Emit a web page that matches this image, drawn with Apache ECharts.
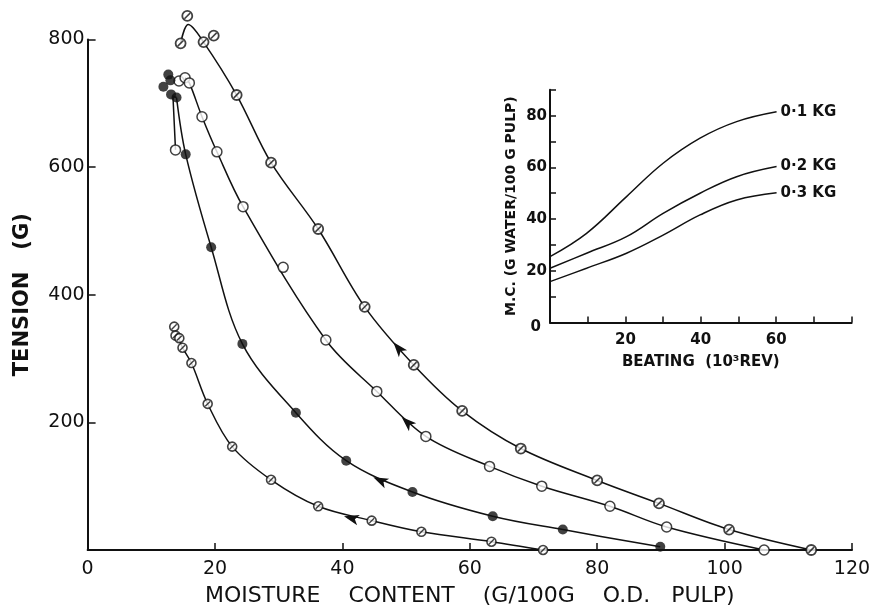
<!DOCTYPE html>
<html>
<head>
<meta charset="utf-8">
<script src="https://cdn.jsdelivr.net/npm/echarts@6/dist/echarts.min.js"></script>
<style>
  html, body { margin: 0; padding: 0; background: #fff; }
  #chart { width: 877px; height: 612px; }
</style>
</head>
<body>
<div id="chart"></div>
<script>
// Tension vs moisture content during drying, four beating levels.
// Marker points [moisture, tension]
const slashedHigh = [[15.65,837],[14.6,794],[18.2,796],[19.8,806],[23.4,713],[28.8,607],[36.2,503],[43.5,381],[51.2,290],[58.8,218],[68.0,159],[80.0,109],[89.7,73],[100.7,32],[113.6,0]];
const openPts = [[13.8,627],[14.35,735],[15.3,740],[15.97,732],[17.96,679],[20.3,624],[24.4,538],[30.7,443],[37.4,329],[45.4,248.5],[53.1,178],[63.1,131],[71.3,100],[82.0,68.5],[90.9,36],[106.2,0]];
const filledPts = [[12.67,745],[11.9,726],[13.0,736],[13.1,714],[13.96,709],[15.4,620],[19.4,474.5],[24.3,323],[32.7,215],[40.6,140],[51.0,91],[63.6,53],[74.6,32],[89.9,5]];
const slashedLow = [[13.6,350],[13.8,336],[14.4,332],[14.9,317],[16.3,293],[18.85,229],[22.7,162],[28.8,110],[36.2,68.5],[44.6,46],[52.4,28.5],[63.4,13],[71.5,0]];

// Fitted curves drawn through the points
const curveHigh = [[14.6,794],[15.8,823.5],[18.2,796],[23.4,713],[28.8,607],[36.2,503],[43.5,381],[51.2,290],[58.8,218],[68.0,159],[80.0,109],[89.7,73],[100.7,32],[113.6,0]];
const curveOpen = [[15.3,740],[15.97,732],[17.96,679],[20.3,624],[24.4,538],[37.4,329],[45.4,248.5],[53.1,178],[63.1,131],[71.3,100],[82.0,68.5],[90.9,36],[106.2,0]];
const hookFilled = [[13.8,627],[13.4,711],[13.96,709]];
const curveFilled = [[13.96,709],[15.4,620],[19.4,474.5],[24.3,323],[32.7,215],[40.6,140],[51.0,91],[63.6,53],[74.6,32],[89.9,5]];
const curveLow = [[14.2,334],[14.9,317],[16.3,293],[18.85,229],[22.7,162],[28.8,110],[36.2,68.5],[44.6,46],[52.4,28.5],[63.4,13],[71.5,0]];

// Direction arrows along each curve: [moisture, tension, rotation]
const arrowHigh = [48.0, 325.5, 40];
const arrowOpen = [49.3, 208.4, 47];
const arrowFilled = [44.85, 114.2, 65];
const arrowLow = [40.25, 52.9, 75];

// Inset: moisture content vs beating, three loads
const beatX = [0, 9.7, 20.3, 30, 39.8, 49.5, 60.1];
const mc01 = [25.5, 34.5, 48.7, 61.6, 71.3, 77.7, 81.5];
const mc02 = [21, 26.8, 33.2, 42.2, 50, 56.4, 60.3];
const mc03 = [15.8, 21, 26.8, 33.8, 41.6, 47.4, 50.2];
const loadNames = ['0·1 KG', '0·2 KG', '0·3 KG'];

const mainXTicks = [0, 20, 40, 60, 80, 100, 120];
const mainYTicks = [200, 400, 600, 800];
const insetXTicks = [20, 40, 60];
const insetYTicks = [0, 20, 40, 60, 80];

const FONT = 'DejaVu Sans';
const INK = '#111';

function curve(data, arrow, smooth) {
  const s = {
    type: 'line', xAxisIndex: 0, yAxisIndex: 0, data: data,
    smooth: smooth, symbol: 'none', clip: false, z: 2,
    lineStyle: { color: INK, width: 1.5 }
  };
  if (arrow) {
    s.markPoint = {
      symbol: 'arrow', symbolSize: [8, 15], symbolRotate: arrow[2],
      itemStyle: { color: INK }, label: { show: false },
      data: [{ coord: [arrow[0], arrow[1]] }]
    };
  }
  return s;
}
function markers(data, opts) {
  return Object.assign({
    type: 'scatter', xAxisIndex: 0, yAxisIndex: 0, data: data, clip: false, z: 3
  }, opts);
}
function load(name, ys) {
  return {
    type: 'line', name: name, xAxisIndex: 1, yAxisIndex: 1,
    data: beatX.map((x, i) => [x, ys[i]]),
    smooth: 0.4, symbol: 'none', lineStyle: { color: INK, width: 1.5 },
    endLabel: { show: true, formatter: '{a}', distance: 4, color: INK,
      fontFamily: FONT, fontSize: 15, fontWeight: 'bold' }
  };
}

const chart = echarts.init(document.getElementById('chart'), null, { renderer: 'canvas' });
chart.setOption({
  animation: false,
  backgroundColor: '#fff',
  grid: [
    { left: 87.6, right: 25, top: 39.5, bottom: 61.5 },
    { left: 550, right: 25.4, top: 89.8, bottom: 289.5 }
  ],
  xAxis: [
    {
      gridIndex: 0, type: 'value', min: 0, max: 120, interval: 20,
      name: 'MOISTURE    CONTENT    (G/100G    O.D.   PULP)', nameLocation: 'middle', nameGap: 35,
      nameTextStyle: { color: INK, fontFamily: FONT, fontSize: 22 },
      axisLine: { lineStyle: { color: INK, width: 2 } },
      axisTick: { inside: true, length: 7, lineStyle: { color: INK, width: 1.5 } },
      axisLabel: { color: INK, fontFamily: FONT, fontSize: 19, margin: 10,
        formatter: v => mainXTicks.includes(v) ? String(v) : '' },
      splitLine: { show: false }
    },
    {
      gridIndex: 1, type: 'value', min: 0, max: 80, interval: 10,
      name: 'BEATING  (10³REV)', nameLocation: 'middle', nameGap: 32,
      nameTextStyle: { color: INK, fontFamily: FONT, fontSize: 15, fontWeight: 'bold' },
      axisLine: { lineStyle: { color: INK, width: 2 } },
      axisTick: { inside: true, length: 6, lineStyle: { color: INK, width: 1.5 } },
      axisLabel: { color: INK, fontFamily: FONT, fontSize: 15, fontWeight: 'bold', margin: 10,
        formatter: v => insetXTicks.includes(v) ? String(v) : '' },
      splitLine: { show: false }
    }
  ],
  yAxis: [
    {
      gridIndex: 0, type: 'value', min: 0, max: 800, interval: 200,
      name: 'TENSION   (G)', nameLocation: 'middle', nameGap: 55,
      nameTextStyle: { color: INK, fontFamily: FONT, fontSize: 21, fontWeight: 'bold' },
      axisLine: { lineStyle: { color: INK, width: 2 } },
      axisTick: { inside: true, length: 8, lineStyle: { color: INK, width: 1.5 } },
      axisLabel: { color: INK, fontFamily: FONT, fontSize: 19, margin: 3,
        formatter: v => mainYTicks.includes(v) ? String(v) : '' },
      splitLine: { show: false }
    },
    {
      gridIndex: 1, type: 'value', min: 0, max: 90, interval: 10,
      name: 'M.C. (G WATER/100 G PULP)', nameLocation: 'middle', nameGap: 32,
      nameTextStyle: { color: INK, fontFamily: FONT, fontSize: 14, fontWeight: 'bold' },
      axisLine: { lineStyle: { color: INK, width: 2 } },
      axisTick: { inside: true, length: 6, lineStyle: { color: INK, width: 1.5 } },
      axisLabel: { color: INK, fontFamily: FONT, fontSize: 15, fontWeight: 'bold', margin: 3,
        formatter: v => v === 0 ? '{z|0}' : (insetYTicks.includes(v) ? String(v) : ''),
        rich: { z: { fontFamily: FONT, fontSize: 15, fontWeight: 'bold', color: INK, padding: [10, 6, 0, 0] } } },
      splitLine: { show: false }
    }
  ],
  series: [
    curve(curveHigh, arrowHigh, 0.35),
    curve(curveOpen, arrowOpen, 0.35),
    curve(hookFilled, null, false),
    curve(curveFilled, arrowFilled, 0.35),
    curve(curveLow, arrowLow, 0.35),
    // circle-with-slash markers (highest curve)
    markers(slashedHigh, { symbol: 'circle', symbolSize: 10,
      itemStyle: { color: '#fff', borderColor: INK, borderWidth: 1.8 } }),
    markers(slashedHigh, { symbol: 'rect', symbolSize: [1.6, 8], symbolRotate: -45, z: 4,
      itemStyle: { color: INK } }),
    // open circles
    markers(openPts, { symbol: 'circle', symbolSize: 10,
      itemStyle: { color: '#fff', borderColor: INK, borderWidth: 1.5 } }),
    // filled circles
    markers(filledPts, { symbol: 'circle', symbolSize: 10, itemStyle: { color: INK } }),
    // circle-with-slash markers (lowest curve)
    markers(slashedLow, { symbol: 'circle', symbolSize: 9,
      itemStyle: { color: '#fff', borderColor: INK, borderWidth: 1.6 } }),
    markers(slashedLow, { symbol: 'rect', symbolSize: [1.4, 7], symbolRotate: -45, z: 4,
      itemStyle: { color: INK } }),
    load(loadNames[0], mc01),
    load(loadNames[1], mc02),
    load(loadNames[2], mc03)
  ]
});
</script>
</body>
</html>
